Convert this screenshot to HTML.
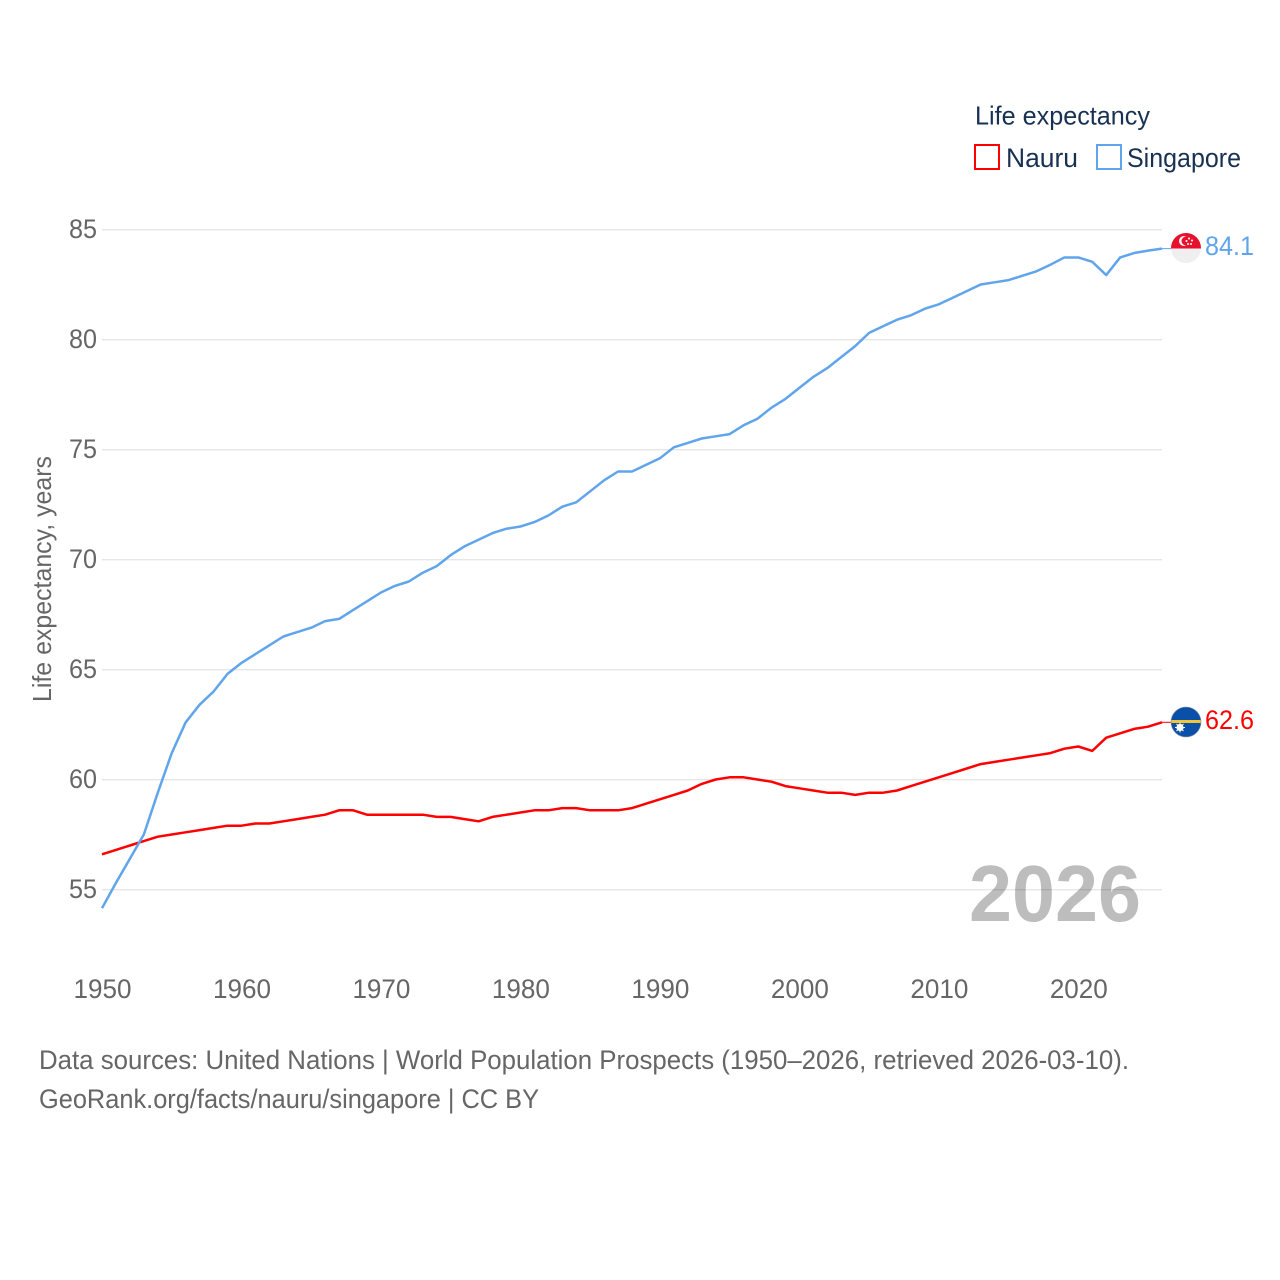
<!DOCTYPE html>
<html lang="en">
<head>
<meta charset="utf-8">
<title>Life expectancy: Nauru and Singapore</title>
<style>
html,body{margin:0;padding:0;background:#fff;}
svg{display:block;font-family:"Liberation Sans",sans-serif;}
</style>
</head>
<body>
<svg id="chart" xmlns="http://www.w3.org/2000/svg" width="1280" height="1280" viewBox="0 0 1280 1280">
  <defs>
    <clipPath id="flag-clip-sg"><circle cx="1186" cy="248" r="15"/></clipPath>
    <clipPath id="flag-clip-nr"><circle cx="1186" cy="722" r="15"/></clipPath>
  </defs>
  <rect width="1280" height="1280" fill="#fff"/>
  <g id="grid"></g>
  <g id="yticks"></g>
  <g id="xticks"></g>
  <text transform="translate(51,702) rotate(-90)" font-size="26" fill="#666" textLength="246" lengthAdjust="spacingAndGlyphs">Life expectancy, years</text>
  <text x="969" y="921" font-size="80" font-weight="700" fill="#000" fill-opacity="0.26" textLength="172" lengthAdjust="spacingAndGlyphs">2026</text>
  <g id="series"></g>

  <g>
    <text x="975" y="124.5" font-size="26" fill="#183153" textLength="175" lengthAdjust="spacingAndGlyphs">Life expectancy</text>
    <rect x="975" y="145" width="24" height="24" fill="none" stroke="#ff0000" stroke-width="2"/>
    <text x="1006" y="167" font-size="27" fill="#183153" textLength="72" lengthAdjust="spacingAndGlyphs">Nauru</text>
    <rect x="1097" y="145" width="24" height="24" fill="none" stroke="#60a5ec" stroke-width="2"/>
    <text x="1127" y="167" font-size="27" fill="#183153" textLength="114" lengthAdjust="spacingAndGlyphs">Singapore</text>
  </g>

  <g>
    <g clip-path="url(#flag-clip-sg)">
      <rect x="1171" y="233" width="30" height="15.5" fill="#e8112d"/>
      <rect x="1171" y="248.5" width="30" height="15" fill="#efefef"/>
      <circle cx="1184" cy="241" r="5" fill="#fff"/>
      <circle cx="1186" cy="241" r="4.5" fill="#e8112d"/>
      <circle cx="1189" cy="238.5" r="1" fill="#fff"/>
      <circle cx="1192" cy="240.5" r="1" fill="#fff"/>
      <circle cx="1186.5" cy="241" r="1" fill="#fff"/>
      <circle cx="1188" cy="244" r="1" fill="#fff"/>
      <circle cx="1191" cy="244" r="1" fill="#fff"/>
    </g>
  </g>
  <g>
    <g clip-path="url(#flag-clip-nr)">
      <rect x="1171" y="707" width="30" height="30" fill="#0a4fa8"/>
      <rect x="1171" y="720" width="30" height="3" fill="#f2c438"/>
      <circle cx="1180" cy="727.5" r="3.6" fill="#fff"/>
      <path d="M1180 722.5V732.5M1175 727.5H1185M1176.5 724L1183.5 731M1183.5 724L1176.5 731" stroke="#fff" stroke-width="1"/>
    </g>
    <circle cx="1186" cy="722" r="15" fill="none" stroke="#8a93a0" stroke-width="0.6"/>
  </g>

  <g id="footer">
    <text x="39" y="1069" font-size="26.5" fill="#666" textLength="1090" lengthAdjust="spacingAndGlyphs">Data sources: United Nations | World Population Prospects (1950–2026, retrieved 2026-03-10).</text>
    <text x="39" y="1108" font-size="26.5" fill="#666" textLength="500" lengthAdjust="spacingAndGlyphs">GeoRank.org/facts/nauru/singapore | CC BY</text>
  </g>
</svg>
<script>
const startYear = 1950;
const yTickValues = [55, 60, 65, 70, 75, 80, 85];
const xTickValues = [1950, 1960, 1970, 1980, 1990, 2000, 2010, 2020];
const nauruValues = [
  56.6,56.8,57.0,57.2,57.4,57.5,57.6,57.7,57.8,57.9,
  57.9,58.0,58.0,58.1,58.2,58.3,58.4,58.6,58.6,58.4,
  58.4,58.4,58.4,58.4,58.3,58.3,58.2,58.1,58.3,58.4,
  58.5,58.6,58.6,58.7,58.7,58.6,58.6,58.6,58.7,58.9,
  59.1,59.3,59.5,59.8,60.0,60.1,60.1,60.0,59.9,59.7,
  59.6,59.5,59.4,59.4,59.3,59.4,59.4,59.5,59.7,59.9,
  60.1,60.3,60.5,60.7,60.8,60.9,61.0,61.1,61.2,61.4,
  61.5,61.3,61.9,62.1,62.3,62.4,62.6
];
const singaporeValues = [
  54.15,55.3,56.4,57.5,59.4,61.2,62.6,63.4,64.0,64.8,
  65.3,65.7,66.1,66.5,66.7,66.9,67.2,67.3,67.7,68.1,
  68.5,68.8,69.0,69.4,69.7,70.2,70.6,70.9,71.2,71.4,
  71.5,71.7,72.0,72.4,72.6,73.1,73.6,74.0,74.0,74.3,
  74.6,75.1,75.3,75.5,75.6,75.7,76.1,76.4,76.9,77.3,
  77.8,78.3,78.7,79.2,79.7,80.3,80.6,80.9,81.1,81.4,
  81.6,81.9,82.2,82.5,82.6,82.7,82.9,83.1,83.4,83.73,
  83.73,83.53,82.93,83.73,83.93,84.04,84.13
];
const nauruLabel = "62.6";
const singaporeLabel = "84.1";

const SVGNS = "http://www.w3.org/2000/svg";
const plotLeft = 102, plotRight = 1162;
function xScale(year) { return plotLeft + (year - 1950) * (plotRight - plotLeft) / 76; }
function yScale(v) { return 889.5 - (v - 55) * 22; }
function make(tag, attrs, parent, text) {
  const el = document.createElementNS(SVGNS, tag);
  for (const k in attrs) el.setAttribute(k, attrs[k]);
  if (text !== undefined) el.textContent = text;
  parent.appendChild(el);
  return el;
}
const gridG = document.getElementById("grid");
const yG = document.getElementById("yticks");
const xG = document.getElementById("xticks");
const seriesG = document.getElementById("series");

yTickValues.forEach(function (v) {
  const line = make("line", {x1: plotLeft, x2: plotRight, y1: yScale(v) + 0.2, y2: yScale(v) + 0.2, stroke: "#e6e6e6", "stroke-width": 1.4}, gridG);
  
  
  const label = make("text", {x: 97, y: yScale(v) + 8.5, "text-anchor": "end", "font-size": 27, fill: "#666", textLength: 28, lengthAdjust: "spacingAndGlyphs"}, yG, String(v));
  
  
});
xTickValues.forEach(function (yr) {
  const label = make("text", {x: xScale(yr) + 0.5, y: 998, "text-anchor": "middle", "font-size": 27, fill: "#666", textLength: 58, lengthAdjust: "spacingAndGlyphs"}, xG, String(yr));
  
  
});
function pathFor(values) {
  return values.map(function (v, i) {
    return (i ? "L" : "M") + xScale(startYear + i).toFixed(2) + " " + yScale(v).toFixed(2);
  }).join("");
}
function endY(values) { return yScale(values[values.length - 1]); }

const nauruLine = make("path", {d: pathFor(nauruValues), fill: "none", stroke: "#ff0000", "stroke-width": 2.5, "stroke-linejoin": "round"}, seriesG);


const singLine = make("path", {d: pathFor(singaporeValues), fill: "none", stroke: "#60a5ec", "stroke-width": 2.5, "stroke-linejoin": "round"}, seriesG);



const nauruLeader = make("line", {x1: plotRight, x2: 1171, y1: endY(nauruValues), y2: endY(nauruValues), stroke: "#ff0000", "stroke-width": 1}, seriesG);


const singLeader = make("line", {x1: plotRight, x2: 1171, y1: endY(singaporeValues), y2: endY(singaporeValues), stroke: "#60a5ec", "stroke-width": 1}, seriesG);



const nauruEnd = make("text", {x: 1205, y: 729, "font-size": 27, fill: "#ff0000", textLength: 49, lengthAdjust: "spacingAndGlyphs"}, seriesG, nauruLabel);


const singEnd = make("text", {x: 1205, y: 255, "font-size": 27, fill: "#60a5ec", textLength: 49, lengthAdjust: "spacingAndGlyphs"}, seriesG, singaporeLabel);


</script>
</body>
</html>
